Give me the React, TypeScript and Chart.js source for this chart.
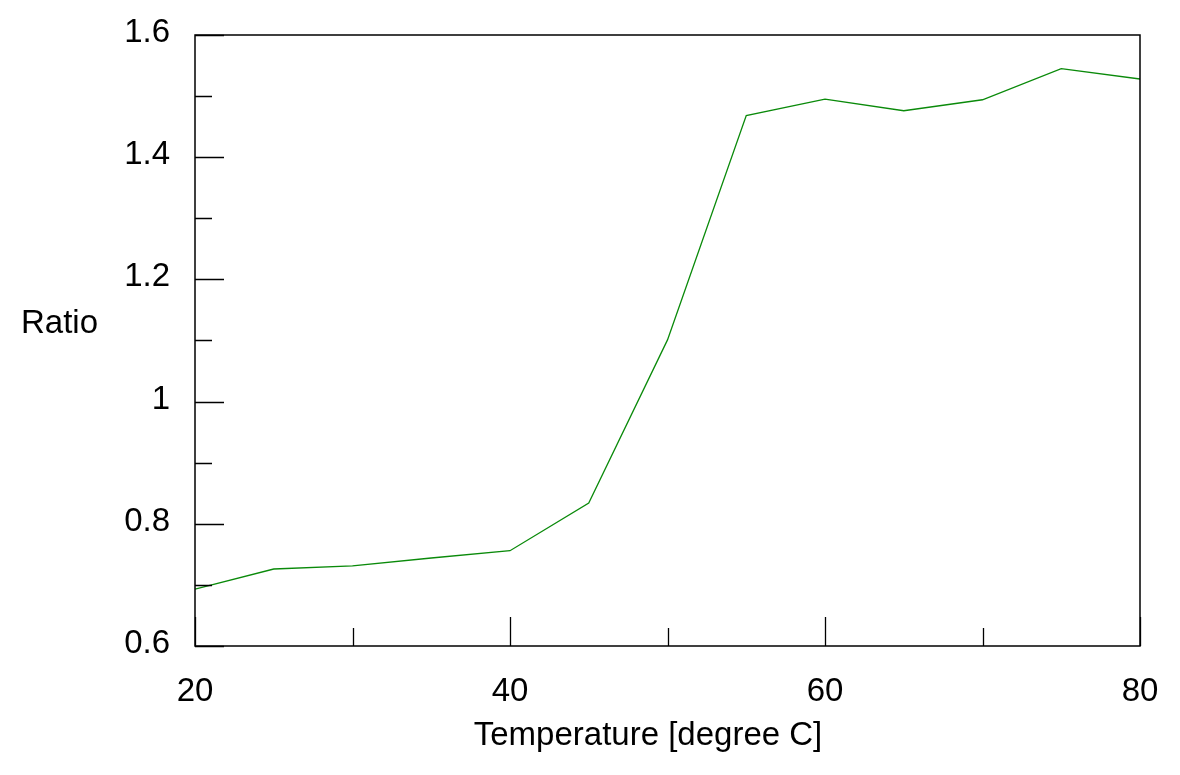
import React, { useEffect, useRef } from "react";
import { Chart, registerables } from "chart.js";

Chart.register(...registerables);

const temperatures = [20, 25, 30, 35, 40, 45, 50, 55, 60, 65, 70, 75, 80];
const ratios = [0.693, 0.726, 0.731, 0.744, 0.756, 0.834, 1.101, 1.468, 1.495, 1.476, 1.494, 1.545, 1.528];

const yMajorTicks = [0.6, 0.8, 1.0, 1.2, 1.4, 1.6];
const yMinorTicks = [0.7, 0.9, 1.1, 1.3, 1.5];
const xMajorTicks = [20, 40, 60, 80];
const xMinorTicks = [30, 50, 70];

const xTitle = "Temperature [degree C]";
const yTitle = "Ratio";

const FONT = "'Liberation Sans', Arial, sans-serif";
const FONT_SIZE = 33;

const framePlugin = {
  id: "frame",
  afterDraw(chart: any) {
    const { ctx, chartArea: a, scales } = chart;
    const xs = scales.x;
    const ys = scales.y;
    ctx.save();
    ctx.strokeStyle = "#000";
    ctx.lineWidth = 1.5;
    ctx.strokeRect(a.left, a.top, a.right - a.left, a.bottom - a.top);
    ctx.lineWidth = 1.3;
    ctx.beginPath();
    yMajorTicks.forEach((v) => {
      const p = Math.round(ys.getPixelForValue(v)) + 0.5;
      ctx.moveTo(a.left, p);
      ctx.lineTo(a.left + 29, p);
    });
    yMinorTicks.forEach((v) => {
      const p = Math.round(ys.getPixelForValue(v)) + 0.5;
      ctx.moveTo(a.left, p);
      ctx.lineTo(a.left + 17, p);
    });
    xMajorTicks.forEach((v) => {
      const p = Math.round(xs.getPixelForValue(v)) + 0.5;
      ctx.moveTo(p, a.bottom);
      ctx.lineTo(p, a.bottom - 29);
    });
    xMinorTicks.forEach((v) => {
      const p = Math.round(xs.getPixelForValue(v)) + 0.5;
      ctx.moveTo(p, a.bottom);
      ctx.lineTo(p, a.bottom - 18);
    });
    ctx.stroke();

    ctx.fillStyle = "#000";
    ctx.font = `${FONT_SIZE}px ${FONT}`;
    ctx.textBaseline = "alphabetic";
    ctx.textAlign = "center";
    ctx.fillText(xTitle, 648, 745);
    ctx.textAlign = "left";
    ctx.fillText(yTitle, 21, 333);
    ctx.restore();
  },
};

export default function App() {
  const canvasRef = useRef<HTMLCanvasElement | null>(null);

  useEffect(() => {
    const canvas = canvasRef.current;
    if (!canvas) return;
    const chart = new Chart(canvas, {
      type: "line",
      data: {
        datasets: [
          {
            data: temperatures.map((t, i) => ({ x: t, y: ratios[i] })),
            borderColor: "#0a8a0a",
            borderWidth: 1.3,
            pointRadius: 0,
            tension: 0,
            fill: false,
          },
        ],
      },
      options: {
        animation: false,
        responsive: false,
        maintainAspectRatio: false,
        layout: { autoPadding: false, padding: { left: 0, top: 35, right: 40, bottom: 0 } },
        plugins: {
          legend: { display: false },
          tooltip: { enabled: false },
          title: { display: false },
        },
        scales: {
          x: {
            type: "linear",
            min: 20,
            max: 80,
            grid: { display: false, drawTicks: false },
            border: { display: false },
            ticks: {
              stepSize: 20,
              padding: 26,
              color: "#000",
              font: { family: FONT, size: FONT_SIZE },
              maxRotation: 0,
              autoSkip: false,
              callback: (v: any) => String(Math.round(Number(v))),
            },
            afterFit: (s: any) => {
              s.height = 129;
              s.paddingLeft = 0;
              s.paddingRight = 0;
              s.paddingTop = 0;
              s.paddingBottom = 0;
            },
          },
          y: {
            type: "linear",
            min: 0.6,
            max: 1.6,
            grid: { display: false, drawTicks: false },
            border: { display: false },
            ticks: {
              stepSize: 0.2,
              padding: 25,
              labelOffset: -2,
              color: "#000",
              font: { family: FONT, size: FONT_SIZE },
              autoSkip: false,
              callback: (v: any) => String(parseFloat(Number(v).toFixed(2))),
            },
            afterFit: (s: any) => {
              s.width = 195;
              s.paddingLeft = 0;
              s.paddingRight = 0;
              s.paddingTop = 0;
              s.paddingBottom = 0;
            },
          },
        },
      },
      plugins: [framePlugin],
    });
    return () => chart.destroy();
  }, []);

  return (
    <div style={{ position: "fixed", left: 0, top: 0, width: 1180, height: 775, background: "#fff" }}>
      <canvas ref={canvasRef} width={1180} height={775} style={{ width: 1180, height: 775, display: "block" }} />
    </div>
  );
}
